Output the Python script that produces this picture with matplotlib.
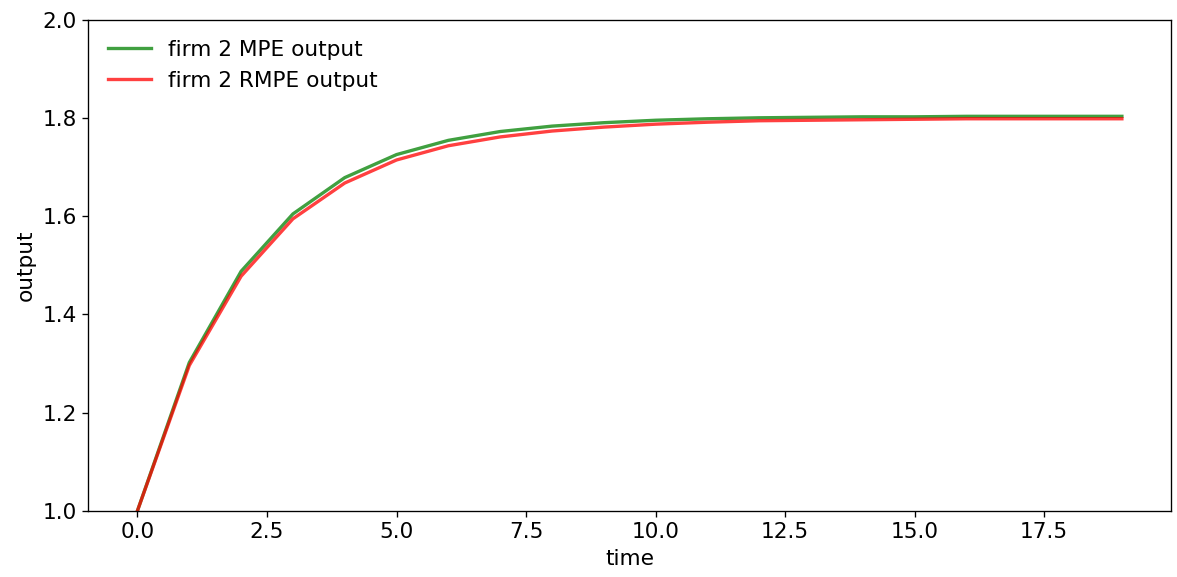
import matplotlib
matplotlib.use('Agg')
import matplotlib.pyplot as plt
import numpy as np

plt.rcParams['font.size'] = 13

# time periods and firm 2 output paths
time = np.arange(20)
mpe_output = [1.000, 1.302, 1.488, 1.605, 1.679, 1.726, 1.755, 1.773, 1.784, 1.791,
              1.796, 1.799, 1.801, 1.802, 1.803, 1.803, 1.804, 1.804, 1.804, 1.804]
rmpe_output = [1.000, 1.296, 1.478, 1.595, 1.668, 1.715, 1.744, 1.762, 1.774, 1.782,
               1.788, 1.792, 1.795, 1.796, 1.797, 1.798, 1.799, 1.799, 1.799, 1.799]

fig, ax = plt.subplots(figsize=(1177 / 120, 577 / 120), dpi=120)
ax.plot(time, mpe_output, 'g-', lw=2, alpha=0.75, label='firm 2 MPE output')
ax.plot(time, rmpe_output, 'r-', lw=2, alpha=0.75, label='firm 2 RMPE output')
ax.set_ylim(1, 2)
ax.set_xlabel('time')
ax.set_ylabel('output')
ax.legend(loc='upper left', frameon=False)

plt.subplots_adjust(left=0.075, right=0.995, top=0.965, bottom=0.115)
plt.savefig('out.png')
